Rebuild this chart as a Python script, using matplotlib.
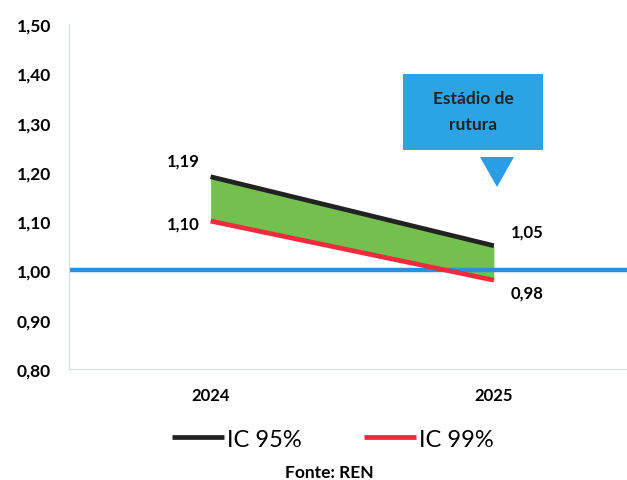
import matplotlib.pyplot as plt
from matplotlib.patches import Rectangle, Polygon
import numpy as np

plt.rcParams['font.family'] = ['Lato', 'DejaVu Sans']

years = ['2024', '2025']
ic95 = [1.19, 1.05]
ic99 = [1.10, 0.98]
threshold = 1.00
yticks = [0.80, 0.90, 1.00, 1.10, 1.20, 1.30, 1.40, 1.50]

W, H = 627, 481
fig = plt.figure(figsize=(W / 100, H / 100), dpi=100)
ax = fig.add_axes([0.110, 0.231, 0.89, 0.717])

x = np.arange(len(years))
ax.fill_between(x, ic99, ic95, color='#6cbd45', alpha=0.95, lw=0, zorder=1)
ax.axhline(threshold, color='#2b8fdc', lw=3.2, zorder=2)
ax.plot(x, ic95, color='#222222', lw=3.4, solid_capstyle='butt', zorder=3, label='IC 95%')
ax.plot(x, ic99, color='#ee2a3c', lw=3.4, solid_capstyle='butt', zorder=3, label='IC 99%')

# value labels
fmt = lambda v: f'{v:.2f}'.replace('.', ',')
lab = dict(textcoords='offset points', ha='center', va='center', fontsize=12, fontweight='bold')
ax.annotate(fmt(ic95[0]), (x[0], ic95[0]), xytext=(-20, 12), **lab)
ax.annotate(fmt(ic99[0]), (x[0], ic99[0]), xytext=(-20, -2), **lab)
ax.annotate(fmt(ic95[1]), (x[1], ic95[1]), xytext=(24, 10), **lab)
ax.annotate(fmt(ic99[1]), (x[1], ic99[1]), xytext=(24, -9), **lab)

# callout box and pointer (figure pixel coordinates)
def px(xp, yp):
    return xp / W, 1 - yp / H

fig.add_artist(Rectangle(px(403, 151), 140 / W, 76 / H, transform=fig.transFigure,
                         fc='#2aa4e4', ec='none'))
fig.text(*px(473, 112), 'Estádio de\nrutura', ha='center', va='center', fontsize=12.5,
         fontweight='bold', color='#222222', linespacing=1.7)
fig.add_artist(Polygon([px(480, 158), px(514, 158), px(497, 188)], closed=True,
                       transform=fig.transFigure, fc='#2a9ee4', ec='none'))

ax.set_xlim(-0.5, 1.47)
ax.set_ylim(0.80, 1.50)
ax.set_xticks(x)
ax.set_xticklabels(years, fontsize=12, fontweight='bold')
ax.set_yticks(yticks)
ax.set_yticklabels([fmt(v) for v in yticks], fontsize=12.5, fontweight='bold')
ax.tick_params(length=0)
ax.tick_params(axis='x', pad=13)
ax.tick_params(axis='y', pad=13)

for s in ['top', 'right']:
    ax.spines[s].set_visible(False)
ax.spines['left'].set_color('#cfe0f0')
ax.spines['bottom'].set_color('#d6dde6')

fig.legend(loc='center', bbox_to_anchor=(0.531, 0.085), ncol=2, frameon=False,
           fontsize=17, handlelength=2.2, handletextpad=0.15, columnspacing=2.6)
fig.text(*px(329, 473), 'Fonte: REN', ha='center', va='center', fontsize=12.5, fontweight='bold')

fig.savefig('out.png', dpi=100)
